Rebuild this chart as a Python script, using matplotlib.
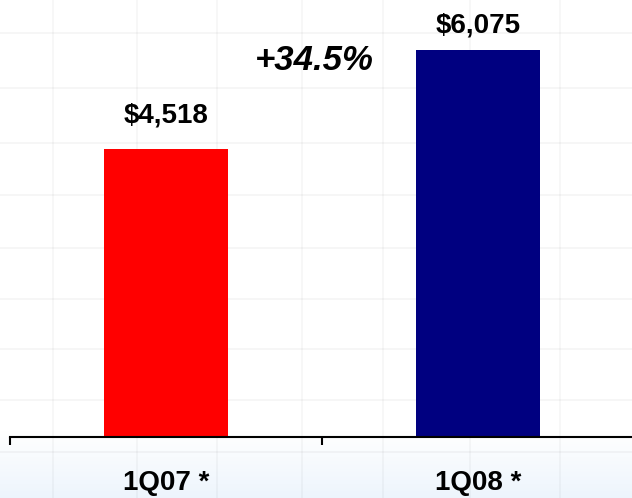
import numpy as np
import matplotlib.pyplot as plt

# Quarterly values
quarters = ['1Q07 *', '1Q08 *']
values = [4518, 6075]
bar_colors = ['#ff0000', '#000080']
value_labels = ['$4,518', '$6,075']
growth_label = '+34.5%'

plt.rcParams['font.family'] = ['Liberation Sans', 'DejaVu Sans']

fig = plt.figure(figsize=(6.32, 4.98), dpi=100)

# slide background: faint grid and a pale blue fade at the bottom
bg = fig.add_axes([0, 0, 1, 1], zorder=0)
bg.set_xlim(0, 632)
bg.set_ylim(498, 0)
bg.axis('off')
grad = np.ones((498, 1, 3))
fade = np.clip((np.arange(498) - 430) / 68.0, 0, 1)
grad[:, 0, 0] = 1 - 0.07 * fade
grad[:, 0, 1] = 1 - 0.04 * fade
grad[:, 0, 2] = 1 - 0.01 * fade
bg.imshow(grad, extent=[0, 632, 498, 0], aspect='auto')
for gy in [33, 88, 143, 195, 248, 299, 349, 400, 452]:
    bg.axhline(gy, color='#000000', alpha=0.035, lw=1.5)
for gx in [53, 137, 217, 302, 383, 470, 560]:
    bg.axvline(gx, color='#000000', alpha=0.03, lw=1.5)

ax = fig.add_axes([10 / 632, 61 / 498, 624 / 632, 437 / 498], zorder=1)
ax.patch.set_alpha(0)
x = np.arange(len(quarters))
bars = ax.bar(x, values, width=0.4, color=bar_colors)
ax.set_xlim(-0.5, 1.5)
ax.set_ylim(0, 6860)

# value labels above bars
offsets = [15, 8.5]
for b, lab, off in zip(bars, value_labels, offsets):
    ax.annotate(lab, (b.get_x() + b.get_width() / 2, b.get_height()),
                xytext=(0, off), textcoords='offset points',
                ha='center', va='bottom', fontsize=20, fontweight='bold')

ax.text(0.474, 5918, growth_label, ha='center', va='center',
        fontsize=25, fontweight='bold', fontstyle='italic')

for s in ['top', 'right', 'left']:
    ax.spines[s].set_visible(False)
ax.spines['bottom'].set_linewidth(1.5)
ax.set_yticks([])
ax.set_xticks(x)
ax.set_xticklabels(quarters, fontsize=20, fontweight='bold')
ax.tick_params(axis='x', which='major', length=0, pad=24)
ax.set_xticks([-0.5, 0.5, 1.5], minor=True)
ax.tick_params(axis='x', which='minor', length=6, width=1.5, direction='out')

fig.savefig('out.png', dpi=100)
